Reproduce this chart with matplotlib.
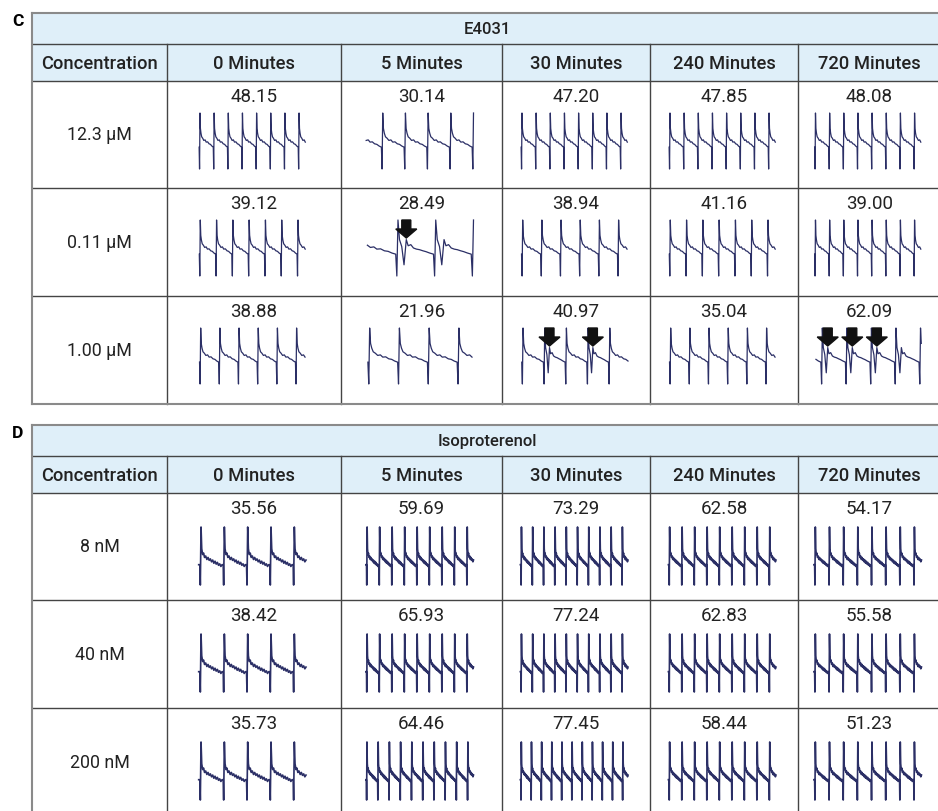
import numpy as np
import matplotlib.pyplot as plt
from matplotlib.patches import Rectangle, Polygon

plt.rcParams['font.family'] = ['Roboto', 'DejaVu Sans']

times = ['0 Minutes', '5 Minutes', '30 Minutes', '240 Minutes', '720 Minutes']

# panel C - E4031
e4031_conc = ['12.3 µM', '0.11 µM', '1.00 µM']
e4031_rate = [[48.15, 30.14, 47.20, 47.85, 48.08],
              [39.12, 28.49, 38.94, 41.16, 39.00],
              [38.88, 21.96, 40.97, 35.04, 62.09]]
e4031_beats = [[8, 5, 8, 8, 8],
               [7, 3, 6, 7, 8],
               [6, 4, 5, 6, 5]]
# beats showing a second (early after-depolarisation) spike, and which get an arrow
e4031_ead = {(1, 1): [0, 1], (2, 2): [1, 3], (2, 4): [0, 1, 2, 3]}
e4031_arrows = {(1, 1): [0], (2, 2): [1, 3], (2, 4): [0, 1, 2]}
# cells where the trace starts / ends at another phase of the beat
e4031_span = {(0, 1): (-0.7, 4.06), (1, 1): (-0.8, 2.06), (2, 2): (-0.08, 4.9),
              (2, 4): (-0.3, 4.1)}

# panel D - Isoproterenol
iso_conc = ['8 nM', '40 nM', '200 nM']
iso_rate = [[35.56, 59.69, 73.29, 62.58, 54.17],
            [38.42, 65.93, 77.24, 62.83, 55.58],
            [35.73, 64.46, 77.45, 58.44, 51.23]]
iso_beats = [[5, 9, 10, 9, 8],
             [5, 9, 10, 9, 8],
             [5, 10, 11, 9, 8]]

# one beat of the field potential (phase 0..1, -1 = trough, 1 = peak)
c_t = [0.0, 0.03, 0.06, 0.09, 0.13, 0.18, 0.25, 0.33, 0.42, 0.5, 0.6, 0.7, 0.8, 0.9, 1.0]
c_y = [-0.22, -1.0, 1.0, 0.45, 0.28, 0.15, 0.1, 0.02, 0.04, -0.04, -0.03, -0.1, -0.12, -0.18, -0.22]
ead_t = [0.0, 0.03, 0.06, 0.1, 0.16, 0.22, 0.28, 0.33, 0.4, 0.47, 0.55, 0.63, 0.72, 0.8, 0.9, 1.0]
ead_y = [-0.22, -1.0, 1.0, 0.3, 0.05, -0.6, 0.3, 0.08, 0.12, 0.0, -0.04, -0.06, -0.1, -0.13, -0.18, -0.22]
ead_peak = 6
iso_t = [0.0, 0.02, 0.05, 0.08, 0.12, 0.16, 0.2, 0.25, 0.3, 0.35, 0.4, 0.45, 0.5,
         0.55, 0.6, 0.65, 0.7, 0.75, 0.8, 0.85, 0.9, 0.95, 1.0]
iso_y = [-0.3, -1.0, 1.0, 0.25, 0.05, 0.1, -0.05, 0.0, -0.12, -0.05, -0.15, -0.1, -0.2,
         -0.14, -0.25, -0.18, -0.28, -0.22, -0.32, -0.27, -0.36, -0.3, -0.3]

col_x = [32, 167, 341, 502, 650, 798, 941]
header_bg = '#dfeff9'
trace_col = '#2b2f66'
inner_col = '#444444'
outer_col = '#8a8a8a'
text_col = '#222222'

fig = plt.figure(figsize=(9.38, 8.12), dpi=100)
ax = fig.add_axes([0, 0, 1, 1])
ax.set_xlim(0, 938)
ax.set_ylim(812, 0)
ax.axis('off')


def trace(p0, p1, ead, template, ead_template):
    xs, ys, marks = [], [], {}
    for k in range(int(np.floor(p0)), int(np.ceil(p1)) + 1):
        if k in ead:
            tt, yy = ead_template
            marks[k] = k + tt[ead_peak]
        else:
            tt, yy = template
        for t, y in zip(tt, yy):
            if p0 <= k + t <= p1:
                xs.append(k + t)
                ys.append(y)
    return np.array(xs), np.array(ys), marks


def arrow(x, tip):
    pts = [(x, tip), (x - 10.5, tip - 9), (x - 4.5, tip - 9), (x - 4.5, tip - 18),
           (x + 4.5, tip - 18), (x + 4.5, tip - 9), (x + 10.5, tip - 9)]
    ax.add_patch(Polygon(pts, closed=True, color='#111111', zorder=5))


def panel(letter, top, title, conc, rate, beats, ead, arrows, span, template, ead_template, center, amp, lw):
    rows = [top + 31, top + 68, top + 175, top + 283, top + 391]
    ax.add_patch(Rectangle((col_x[0], top), col_x[-1] - col_x[0], rows[1] - top,
                           facecolor=header_bg, edgecolor='none', zorder=0))
    ax.text(12, top + 8, letter, fontsize=12.5, fontweight='bold', ha='left', va='center')
    ax.text((col_x[0] + col_x[-1]) / 2 + 0.5, (top + rows[0]) / 2, title,
            fontsize=12, fontweight='medium', ha='center', va='center', color=text_col)
    heads = ['Concentration'] + times
    for j, h in enumerate(heads):
        ax.text((col_x[j] + col_x[j + 1]) / 2, (rows[0] + rows[1]) / 2 + 0.5, h,
                fontsize=13.2, fontweight='medium', ha='center', va='center', color=text_col)
    # grid lines
    for y in rows[:-1]:
        ax.plot([col_x[0], col_x[-1]], [y, y], color=inner_col, lw=1.0)
    for x in col_x[1:-1]:
        ax.plot([x, x], [rows[0], rows[-1]], color=inner_col, lw=1.0)
    ax.plot([col_x[0], col_x[-1]], [top, top], color=outer_col, lw=1.5)
    ax.plot([col_x[0], col_x[-1]], [rows[-1], rows[-1]], color=outer_col, lw=1.5)
    ax.plot([col_x[0], col_x[0]], [top, rows[-1]], color=outer_col, lw=1.5)

    for i in range(3):
        rt = rows[i + 1]
        rb = rows[i + 2]
        ax.text((col_x[0] + col_x[1]) / 2, (rt + rb) / 2, conc[i], fontsize=12.8,
                ha='center', va='center', color=text_col)
        for j in range(5):
            cx = (col_x[j + 1] + col_x[j + 2]) / 2
            ax.text(cx, rt + 15, f'{rate[i][j]:.2f}', fontsize=13.5, ha='center',
                    va='center', color=text_col)
            n = beats[i][j]
            p0, p1 = span.get((i, j), (-0.08, n - 0.45))
            ph, yv, marks = trace(p0, p1, ead.get((i, j), []), template, ead_template)
            w = 108
            xs = cx - 2 - w / 2 + (ph - p0) / (p1 - p0) * w
            ys = rt + center - yv * amp
            ax.plot(xs, ys, color=trace_col, lw=lw, solid_joinstyle='round')
            for b in arrows.get((i, j), []):
                bx = cx - 2 - w / 2 + (marks[b] - p0) / (p1 - p0) * w
                arrow(bx, rt + 50)


panel('C', 14, 'E4031', e4031_conc, e4031_rate, e4031_beats, e4031_ead, e4031_arrows,
      e4031_span, (c_t, c_y), (ead_t, ead_y), 60, 28, 0.9)
panel('D', 426, 'Isoproterenol', iso_conc, iso_rate, iso_beats, {}, {}, {},
      (iso_t, iso_y), (iso_t, iso_y), 63, 29, 1.2)

fig.savefig('out.png', dpi=100)
